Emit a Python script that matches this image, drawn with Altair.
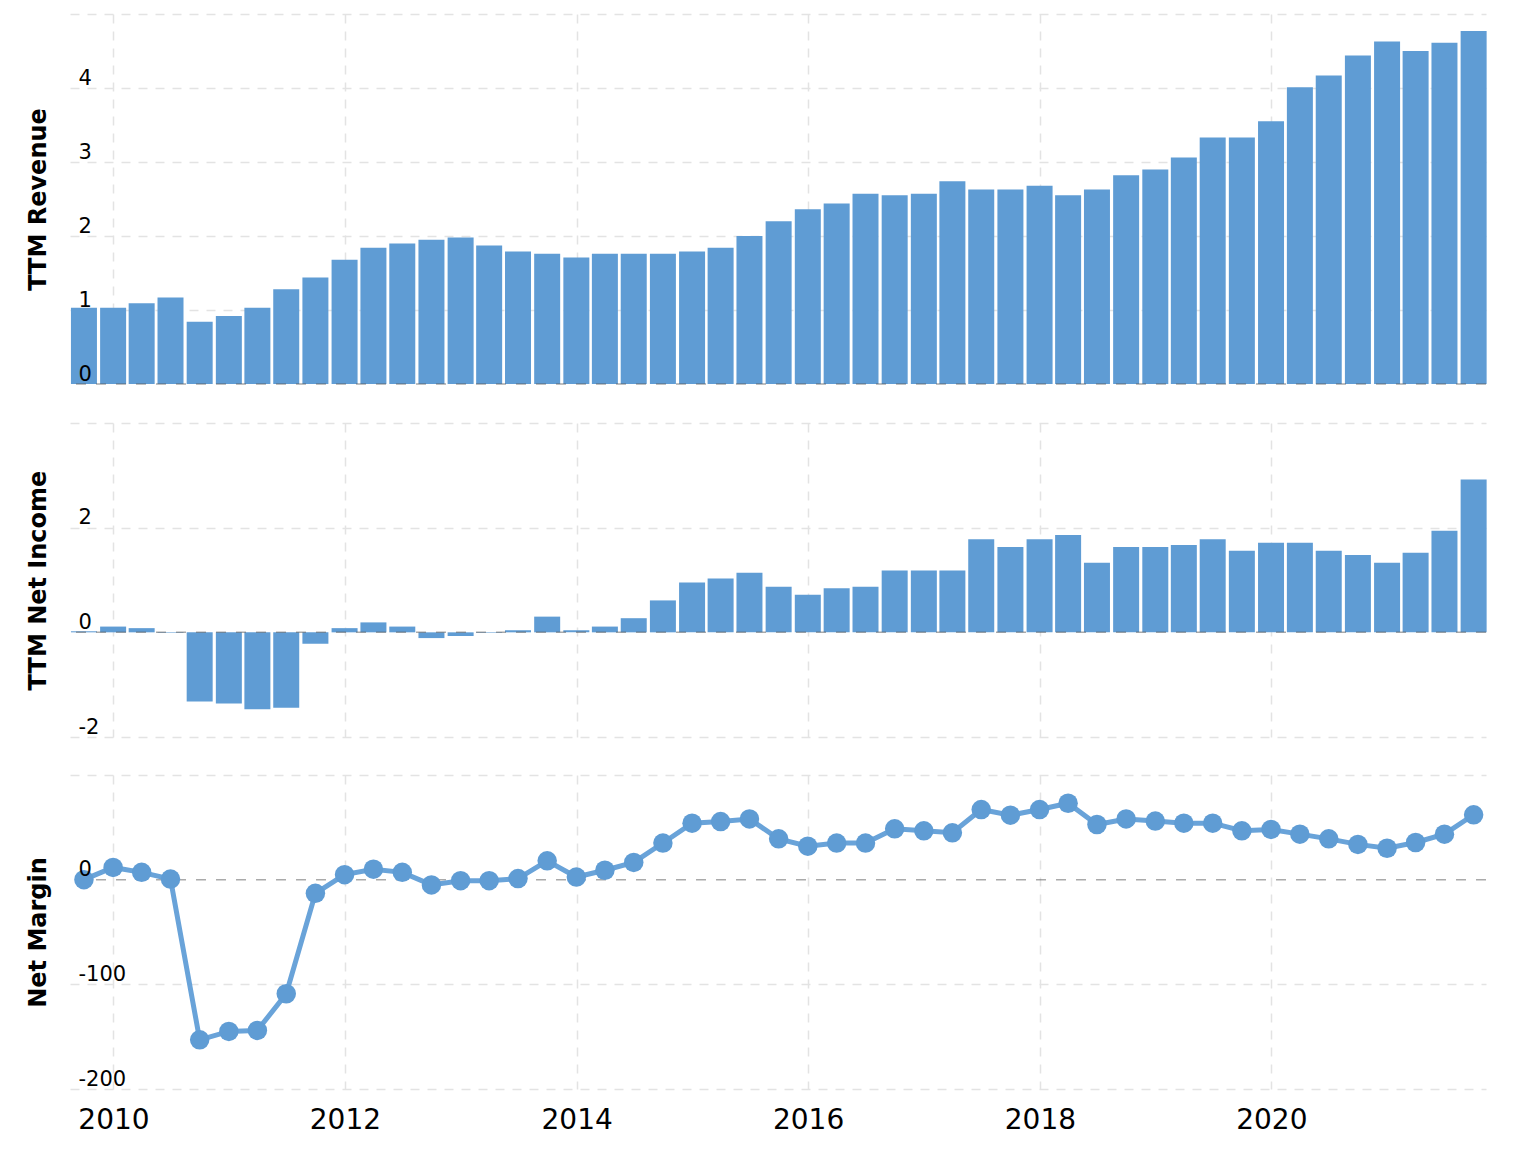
import altair as alt
import pandas as pd

# ---------------- data ----------------
quarters = [f"{y}-{md}" for y in range(2009, 2022) for md in ("03-31", "06-30", "09-30", "12-31")][2:51]

revenue = [1.03, 1.03, 1.09, 1.17, 0.84, 0.92, 1.03, 1.28, 1.44, 1.68,
           1.84, 1.90, 1.95, 1.98, 1.87, 1.79, 1.76, 1.71, 1.76, 1.76,
           1.76, 1.79, 1.84, 2.00, 2.20, 2.36, 2.44, 2.57, 2.55, 2.57,
           2.74, 2.63, 2.63, 2.68, 2.55, 2.63, 2.82, 2.90, 3.06, 3.33,
           3.33, 3.55, 4.01, 4.17, 4.44, 4.63, 4.50, 4.61, 4.77]

net_income = [0.02, 0.11, 0.08, -0.01, -1.32, -1.36, -1.47, -1.44, -0.22, 0.08,
              0.19, 0.11, -0.11, -0.07, -0.01, 0.04, 0.30, 0.04, 0.11, 0.27,
              0.61, 0.95, 1.03, 1.14, 0.87, 0.72, 0.84, 0.87, 1.18, 1.18,
              1.18, 1.78, 1.63, 1.78, 1.86, 1.33, 1.63, 1.63, 1.67, 1.78,
              1.56, 1.71, 1.71, 1.56, 1.48, 1.33, 1.52, 1.94, 2.92]

net_margin = [0, 11.7, 7, 0.6, -153, -145, -144, -109, -13, 4.8,
              10, 7, -5, -1, -1, 1, 18, 2.5, 9, 16.5,
              35, 54, 55.5, 58, 39, 32, 35, 35, 48.6, 46.7,
              44.8, 67, 61.6, 67, 73, 52.7, 58, 56, 54, 54,
              46.7, 48, 43.5, 39, 33.7, 30, 35.5, 43.5, 62]

year_ticks = [2010, 2012, 2014, 2016, 2018, 2020]

df = pd.DataFrame({"date": quarters, "revenue": revenue,
                   "net_income": net_income, "net_margin": net_margin})
zero_df = pd.DataFrame({"v": [0]})

# ---------------- styling ----------------
BAR = "#5f9cd4"
LINE = "#69a3d9"
GRID = "#e3e3e3"
FONT = "DejaVu Sans"
W = 1416

x_scale = alt.Scale(type="utc", padding=0,
                    domain=[alt.DateTime(year=2009, month=8, date=17, utc=True),
                            alt.DateTime(year=2021, month=11, date=8, utc=True)])
x_vals = [alt.DateTime(year=y, month=1, date=1, utc=True) for y in year_ticks]


def x_axis(bottom):
    if bottom:
        return alt.Axis(values=x_vals, grid=True, gridColor=GRID, gridDash=[9, 8], gridWidth=1.5,
                        labels=True, format="%Y", labelFontSize=28, labelFont=FONT, labelColor="#000",
                        labelPadding=17, ticks=False, domain=False, title=None, labelFlush=False)
    return alt.Axis(values=x_vals, grid=True, gridColor=GRID, gridDash=[9, 8], gridWidth=1.5,
                    labels=False, ticks=False, domain=False, title=None)


def grid_axis(vals):
    return alt.Axis(values=vals, grid=True, gridColor=GRID, gridDash=[9, 8], gridWidth=1.5,
                    labels=False, ticks=False, domain=False, title=None, orient="left",
                    minExtent=0, maxExtent=0)


def label_axis(vals, title):
    return alt.Axis(values=vals, grid=False, ticks=False, tickSize=0, domain=False, orient="left",
                    labelAlign="left", labelBaseline="bottom", labelPadding=-8,
                    labelExpr="toString(datum.value)",
                    labelFontSize=21, labelFont=FONT, labelColor="#000", labelOverlap=False,
                    title=title, titleFont=FONT, titleFontSize=24, titleFontWeight="bold",
                    titleColor="#000", titlePadding=20, zindex=1, minExtent=0, maxExtent=0)


def zero_rule(scale, vals=None, title=None, visible=True):
    enc_axis = label_axis(vals, title) if vals is not None else None
    return alt.Chart(zero_df).mark_rule(color="#555555", opacity=0.5 if visible else 0,
                                        strokeDash=[10, 10], strokeWidth=1.5).encode(
        y=alt.Y("v:Q", scale=scale, axis=enc_axis)
    )


# Panel 1: TTM Revenue
s1 = alt.Scale(domain=[0, 5], nice=False, zero=False)
bars1 = alt.Chart(df).mark_bar(color=BAR, width=26).encode(
    x=alt.X("date:T", scale=x_scale, axis=x_axis(False)),
    y=alt.Y("revenue:Q", scale=s1, axis=grid_axis([1, 2, 3, 4, 5])),
)
p1 = alt.layer(zero_rule(s1, [0, 1, 2, 3, 4], "TTM Revenue", visible=False),
               bars1, zero_rule(s1)).resolve_axis(
    y="independent").properties(width=W, height=370)

# Panel 2: TTM Net Income
s2 = alt.Scale(domain=[-2, 4], nice=False, zero=False)
bars2 = alt.Chart(df).mark_bar(color=BAR, width=26).encode(
    x=alt.X("date:T", scale=x_scale, axis=x_axis(False)),
    y=alt.Y("net_income:Q", scale=s2, axis=grid_axis([-2, 2, 4])),
)
p2 = alt.layer(zero_rule(s2, [-2, 0, 2], "TTM Net Income", visible=False),
               bars2, zero_rule(s2)).resolve_axis(
    y="independent").properties(width=W, height=314)

# Panel 3: Net Margin
s3 = alt.Scale(domain=[-200, 100], nice=False, zero=False)
line3 = alt.Chart(df).mark_line(color=LINE, strokeWidth=5).encode(
    x=alt.X("date:T", scale=x_scale, axis=x_axis(True)),
    y=alt.Y("net_margin:Q", scale=s3, axis=grid_axis([-200, -100, 100])),
)
pts3 = alt.Chart(df).mark_circle(color=BAR, size=380, opacity=1).encode(
    x=alt.X("date:T", scale=x_scale, axis=x_axis(True)),
    y=alt.Y("net_margin:Q", scale=s3, axis=None),
)
p3 = alt.layer(zero_rule(s3, [-200, -100, 0], "Net Margin"), line3, pts3).resolve_axis(
    y="independent").properties(width=W, height=314)

chart = alt.vconcat(p1, p2, p3, spacing=38).properties(
    padding={"left": 26, "top": 14, "right": 10, "bottom": 10},
    background="white",
).configure_view(stroke=None)

chart.save("out.html", embed_options={"renderer": "svg", "actions": False})
